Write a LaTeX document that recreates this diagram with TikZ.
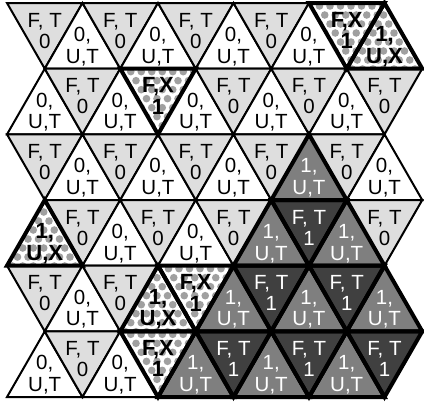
\documentclass[tikz,border=0pt]{standalone}
\usepackage{fontspec}
\setmainfont{Liberation Sans}
\definecolor{lightg}{HTML}{DEDEDE}
\definecolor{midg}{HTML}{7F7F7F}
\definecolor{darkg}{HTML}{404040}
\definecolor{dotg}{HTML}{A0A0A0}
\tikzset{
  lab/.style={anchor=base, inner sep=0pt, font=\fontsize{20.5}{21}\selectfont},
  labb/.style={lab, font=\fontsize{22}{23}\selectfont\bfseries},
  labw/.style={lab, text=white},
  thinedge/.style={line width=2pt, line join=miter},
  thickedge/.style={line width=4pt, line join=miter},
}
\newcommand\trigeom[2]{%
  \pgfmathsetmacro\cx{7+(#2+1)*37.75}%
  \pgfmathsetmacro\ty{3+#1*65.67}%
  \pgfmathsetmacro\by{\ty+65.67}%
  \pgfmathsetmacro\lx{\cx-37.75}%
  \pgfmathsetmacro\rx{\cx+37.75}%
  \ifodd\numexpr#1+#2\relax
    \coordinate (P1) at (\cx,\ty); \coordinate (P2) at (\lx,\by); \coordinate (P3) at (\rx,\by);
  \else
    \coordinate (P1) at (\lx,\ty); \coordinate (P2) at (\rx,\ty); \coordinate (P3) at (\cx,\by);
  \fi}
% fills
\newcommand\fillA{\fill[lightg] (P1)--(P2)--(P3)--cycle;}
\newcommand\fillB{\fill[white] (P1)--(P2)--(P3)--cycle;}
\newcommand\fillM{\fill[midg] (P1)--(P2)--(P3)--cycle;}
\newcommand\fillD{\fill[darkg] (P1)--(P2)--(P3)--cycle;}
\newcommand\fillX{\fill[white] (P1)--(P2)--(P3)--cycle;
  \begin{scope}
    \clip (P1)--(P2)--(P3)--cycle;
    \foreach \j in {0,...,7}{\foreach \i in {-1,...,8}{
      \fill[dotg] ({\lx+\i*10.5+mod(\j,2)*5.25},{\ty+3+\j*9}) circle[radius=3.8pt];}}
  \end{scope}}
\let\fillY\fillX
% thick borders
\newcommand\thickA{}
\newcommand\thickB{}
\newcommand\thickX{\draw[thickedge] (P1)--(P2)--(P3)--cycle;}
\let\thickY\thickX
\let\thickM\thickX
\let\thickD\thickX
% labels
\newcommand\labA{\node[lab] at (\cx,\ty+24) {F, T}; \node[lab] at (\cx,\ty+45) {0};}
\newcommand\labB{\node[lab] at (\cx,\ty+38.5) {0,}; \node[lab] at (\cx,\ty+60) {U,T};}
\newcommand\labX{\node[labb] at (\cx,\ty+24) {F,X}; \node[labb] at (\cx,\ty+45.5) {1};}
\newcommand\labY{\node[labb] at (\cx,\ty+38.5) {1,}; \node[labb] at (\cx,\ty+60) {U,X};}
\newcommand\labM{\node[labw] at (\cx,\ty+38.5) {1,}; \node[labw] at (\cx,\ty+60) {U,T};}
\newcommand\labD{\node[labw] at (\cx,\ty+24) {F, T}; \node[labw] at (\cx,\ty+45) {1};}
% passes
\newcommand\passfill[1]{\trigeom{#1}{\k}\csname fill\t\endcsname\draw[thinedge] (P1)--(P2)--(P3)--cycle;}
\newcommand\passthick[1]{\trigeom{#1}{\k}\csname thick\t\endcsname}
\newcommand\passlab[1]{\trigeom{#1}{\k}\csname lab\t\endcsname}
\newcommand\allrows[1]{%
  \foreach \t [count=\k from 0] in {A,B,A,B,A,B,A,B,X,Y} {#1{0}}%
  \foreach \t [count=\k from 0] in {B,A,B,X,B,A,B,A,B,A} {#1{1}}%
  \foreach \t [count=\k from 0] in {A,B,A,B,A,B,A,M,A,B} {#1{2}}%
  \foreach \t [count=\k from 0] in {Y,A,B,A,B,A,M,D,M,A} {#1{3}}%
  \foreach \t [count=\k from 0] in {A,B,A,Y,X,M,D,M,D,M} {#1{4}}%
  \foreach \t [count=\k from 0] in {B,A,B,X,M,D,M,D,M,D} {#1{5}}%
}
\begin{document}
\begin{tikzpicture}[x=1pt,y=-1pt]
\useasboundingbox (0,0) rectangle (424,407);
\fill[white] (0,0) rectangle (424,407);
\allrows\passfill
\allrows\passthick
\allrows\passlab
\end{tikzpicture}
\end{document}
